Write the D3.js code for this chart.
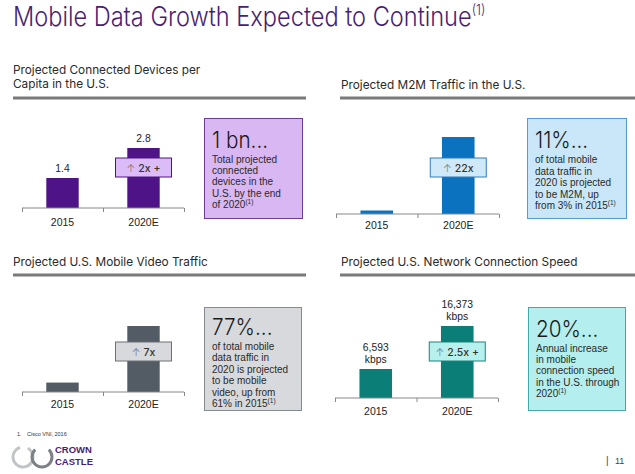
<!DOCTYPE html>
<html><head><meta charset="utf-8">
<script src="https://cdn.jsdelivr.net/npm/d3@7"></script>
<style>
html,body{margin:0;padding:0;background:#fff;}
svg{display:block;font-family:"Liberation Sans",Arial,sans-serif;}
</style></head>
<body>
<svg id="chart" width="635" height="474"></svg>
<script>
// ---------- data ----------
const years = ["2015", "2020E"];
const devicesPerCapita = [1.4, 2.8];
const m2mTraffic = [1, 22];           // relative (22x growth)
const videoTraffic = [1, 7];          // relative (7x growth)
const connectionSpeed = [6593, 16373]; // kbps
const devicesLabels = ["1.4", "2.8"];
const speedLabels = ["6,593", "16,373"];
const multipliers = ["2x +", "22x", "7x", "2.5x +"];
const panelTitles = [
  ["Projected Connected Devices per", "Capita in the U.S."],
  ["Projected M2M Traffic in the U.S."],
  ["Projected U.S. Mobile Video Traffic"],
  ["Projected U.S. Network Connection Speed"]
];
const calloutHeads = ["1 bn...", "11%...", "77%...", "20%..."];
const calloutBodies = [
  ["Total projected", "connected", "devices in the", "U.S. by the end", "of 2020"],
  ["of total mobile", "data traffic in", "2020 is projected", "to be M2M, up", "from 3% in 2015"],
  ["of total mobile", "data traffic in", "2020 is projected", "to be mobile", "video, up from", "61% in 2015"],
  ["Annual increase", "in mobile", "connection speed", "in the U.S. through", "2020"]
];

const svg = d3.select("#chart");
const INTER = "Inter, 'Open Sans', sans-serif";

// title
const t = svg.append("text").attr("transform", "translate(13,26) scale(0.89,1)")
  .attr("font-family", INTER)
  .attr("font-size", 26.5).attr("font-weight", 300).attr("fill", "#4a1d72")
  .text("Mobile Data Growth Expected to Continue");
t.append("tspan").attr("font-size", 14).attr("dy", -11).text("(1)");

const panels = [
  {values: devicesPerCapita, labels: devicesLabels.map(d => [d]), x0: 22, x1: 184, base: 208, top: 148,
   color: "#4f1388", boxFill: "#dcbcf6", boxStroke: "#4f1388",
   calloutFill: "#d8b7f3", calloutStroke: "#6d3d98", callout: [204, 118, 302, 218],
   titleX: 13, titleY: 74, ruleY: 98, ruleX: [13, 306], yearY: 226, boxY: 158, headY: 148, bodyY: 163, lh: 11.2},
  {values: m2mTraffic, labels: null, x0: 336, x1: 499, base: 214, top: 137,
   color: "#0b72c0", boxFill: "#cfe9f9", boxStroke: "#2c7fbf",
   calloutFill: "#c9e7f8", calloutStroke: "#4f9fd2", callout: [527, 118, 626, 218],
   titleX: 341, titleY: 89, ruleY: 98, ruleX: [340, 635], yearY: 229, boxY: 158, headY: 148, bodyY: 163, lh: 11.5},
  {values: videoTraffic, labels: null, x0: 22, x1: 184, base: 392, top: 326,
   color: "#535b64", boxFill: "#d7d9dc", boxStroke: "#6b7178",
   calloutFill: "#d8d9dc", calloutStroke: "#868a91", callout: [204, 307, 301, 410],
   titleX: 13, titleY: 266, ruleY: 275, ruleX: [13, 306], yearY: 408, boxY: 342, headY: 335, bodyY: 349.5, lh: 11.5},
  {values: connectionSpeed, labels: speedLabels.map(d => [d, "kbps"]), x0: 335, x1: 498, base: 398, top: 326,
   color: "#0b7f77", boxFill: "#b8f0ee", boxStroke: "#17857c",
   calloutFill: "#b5eeee", calloutStroke: "#46a7a7", callout: [528, 307, 625, 410],
   titleX: 341, titleY: 266, ruleY: 275, ruleX: [340, 635], yearY: 415, boxY: 342, headY: 336.5, bodyY: 352, lh: 11.2}
];

panels.forEach((p, i) => {
  const g = svg.append("g");
  // title
  panelTitles[i].forEach((line, k) => {
    g.append("text").attr("x", p.titleX).attr("y", p.titleY + k * 14.3)
      .attr("font-family", INTER)
      .attr("font-size", 11.8).attr("fill", "#2a2a2a").text(line);
  });
  // rule
  g.append("line").attr("x1", p.ruleX[0]).attr("x2", p.ruleX[1])
    .attr("y1", p.ruleY).attr("y2", p.ruleY).attr("stroke", "#7a7a7a").attr("stroke-width", 3);

  // scales
  const x = d3.scaleBand().domain(years).range([p.x0, p.x1]).paddingInner(0.6).paddingOuter(0.3);
  const y = d3.scaleLinear().domain([0, d3.max(p.values)]).range([p.base, p.top]);
  const tickScale = d3.scaleLinear().domain([0, 2]).range([p.x0, p.x1]);

  // bars
  g.selectAll("rect.bar").data(p.values).join("rect").attr("class", "bar")
    .attr("x", (d, j) => x(years[j])).attr("width", x.bandwidth())
    .attr("y", d => y(d)).attr("height", d => p.base - y(d)).attr("fill", p.color);

  // axis line with ticks
  const ax = g.append("g").attr("transform", `translate(0,${p.base})`)
    .call(d3.axisBottom(tickScale).tickValues([0, 1, 2]).tickSize(4).tickFormat(""));
  ax.select(".domain").attr("stroke", "#888").attr("d", `M${p.x0},0H${p.x1}`);
  ax.selectAll(".tick line").attr("stroke", "#888");

  // year labels
  g.selectAll("text.year").data(years).join("text").attr("class", "year")
    .attr("x", d => x(d) + x.bandwidth() / 2).attr("y", p.yearY)
    .attr("text-anchor", "middle").attr("font-size", 10.5).attr("fill", "#222").text(d => d);

  // value labels
  if (p.labels) {
    p.values.forEach((v, j) => {
      const lines = p.labels[j];
      lines.forEach((ln, k) => {
        g.append("text").attr("x", x(years[j]) + x.bandwidth() / 2)
          .attr("y", y(v) - 6 - (lines.length - 1 - k) * 11.8)
          .attr("text-anchor", "middle").attr("font-size", 10.3).attr("fill", "#222").text(ln);
      });
    });
  }

  // multiplier box
  const cx = x(years[1]) + x.bandwidth() / 2;
  const bw = 56, bh = 19;
  g.append("rect").attr("x", cx - bw / 2).attr("y", p.boxY).attr("width", bw).attr("height", bh)
    .attr("fill", p.boxFill).attr("stroke", p.boxStroke).attr("stroke-width", 1);
  const mt = g.append("text").attr("x", cx).attr("y", p.boxY + 13.5).attr("text-anchor", "middle")
    .attr("font-family", INTER).attr("font-size", 10.5).attr("fill", "#333");
  mt.append("tspan").attr("fill", "#777").attr("font-weight", 300).text("↑ ");
  mt.append("tspan").attr("font-weight", 500).text(multipliers[i]);

  // callout
  const [cx0, cy0, cx1, cy1] = p.callout;
  g.append("rect").attr("x", cx0 + 0.5).attr("y", cy0 + 0.5).attr("width", cx1 - cx0).attr("height", cy1 - cy0)
    .attr("fill", p.calloutFill).attr("stroke", p.calloutStroke).attr("stroke-width", 1);
  g.append("text").attr("transform", `translate(${cx0 + 8},${p.headY}) scale(0.92,1)`)
    .attr("font-family", INTER).attr("font-size", 22.5).attr("font-weight", 300)
    .attr("fill", "#1a1a1a").text(calloutHeads[i]);
  const body = calloutBodies[i];
  body.forEach((ln, k) => {
    const tx = g.append("text").attr("x", cx0 + 8).attr("y", p.bodyY + k * p.lh)
      .attr("font-size", 10).attr("fill", "#2a2a2a").text(ln);
    if (k === body.length - 1) tx.append("tspan").attr("font-size", 6.5).attr("dy", -4).text("(1)");
  });
});

// footer
svg.append("text").attr("x", 17).attr("y", 436).attr("font-size", 5.5).attr("fill", "#333").text("1.");
svg.append("text").attr("x", 27).attr("y", 436).attr("font-size", 5.5).attr("fill", "#333").text("Cisco VNI, 2016");
const arc = d3.arc();
svg.append("path").attr("transform", "translate(23,457)")
  .attr("d", arc({innerRadius: 8.5, outerRadius: 11.5, startAngle: 0.5, endAngle: 2 * Math.PI - 0.3}))
  .attr("fill", "#c2c4c7");
svg.append("path").attr("transform", "translate(42,457)")
  .attr("d", arc({innerRadius: 8.5, outerRadius: 11.5, startAngle: 0.75, endAngle: 2 * Math.PI - 0.75}))
  .attr("fill", "#7d8084");
svg.append("text").attr("x", 55).attr("y", 453).attr("font-size", 9.5).attr("font-weight", 700)
  .attr("fill", "#4a1d72").text("CROWN");
svg.append("text").attr("x", 55).attr("y", 464.5).attr("font-size", 9.5).attr("font-weight", 700)
  .attr("fill", "#4a1d72").text("CASTLE");
svg.append("text").attr("x", 606).attr("y", 464).attr("font-size", 10).attr("fill", "#444").text("|");
svg.append("text").attr("x", 615).attr("y", 464).attr("font-size", 9).attr("fill", "#444").text("11");
</script>
</body></html>
